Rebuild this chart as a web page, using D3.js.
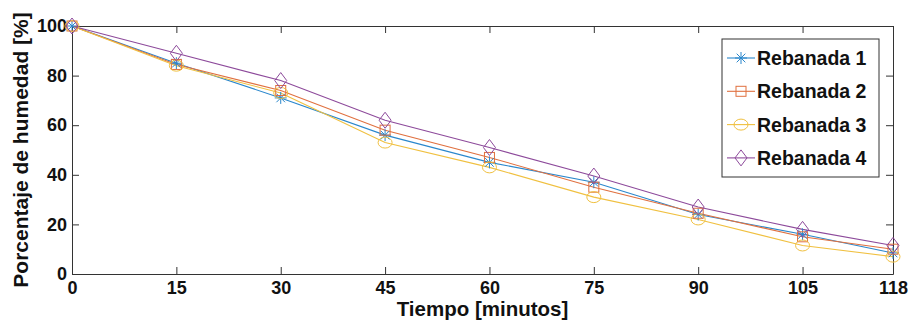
<!DOCTYPE html>
<html>
<head>
<meta charset="utf-8">
<script src="https://cdn.jsdelivr.net/npm/d3@7"></script>
<style>
  html, body { margin: 0; padding: 0; background: #fff; }
  svg { display: block; }
  text { font-family: "Liberation Sans", Arial, sans-serif; font-weight: bold; fill: #111; }
</style>
</head>
<body>
<svg id="chart" width="912" height="320"></svg>
<script>
// Moisture loss over drying time for four slices
const tiempo = [0, 15, 30, 45, 60, 75, 90, 105, 118];
const xTicks = [0, 15, 30, 45, 60, 75, 90, 105, 118];
const yTicks = [0, 20, 40, 60, 80, 100];
const seriesNames = ["Rebanada 1", "Rebanada 2", "Rebanada 3", "Rebanada 4"];
const rebanada1 = [100, 85, 71, 56, 45, 37, 24, 16, 8.5];
const rebanada2 = [100, 84.5, 74, 58, 47, 35, 24.5, 15, 10];
const rebanada3 = [100, 84, 73, 53, 43, 31, 22, 11.5, 7];
const rebanada4 = [100, 89, 78, 62, 51, 39.5, 27, 18, 11.5];
const seriesColors = ["#2a87cc", "#e0703f", "#f0c040", "#8d4a9b"];
const seriesMarkers = ["asterisk", "square", "circle", "diamond"];

const series = [rebanada1, rebanada2, rebanada3, rebanada4].map((vals, i) => ({
  name: seriesNames[i], color: seriesColors[i], marker: seriesMarkers[i],
  points: vals.map((v, j) => ({ x: tiempo[j], y: v }))
}));

const svg = d3.select("#chart");
const m = { left: 72, right: 19, top: 26, bottom: 46 };
const W = 912, H = 320;
const x = d3.scaleLinear().domain([0, 118]).range([m.left, W - m.right]);
const y = d3.scaleLinear().domain([0, 100]).range([H - m.bottom, m.top]);
const axisColor = "#333";
const tickLen = 7;
const font = "Liberation Sans";

// Axes: ticks point inward, mirrored on top and right
const xAxisB = d3.axisBottom(x).tickValues(xTicks).tickSizeInner(-tickLen).tickSizeOuter(0).tickPadding(7);
const xAxisT = d3.axisTop(x).tickValues(xTicks).tickSizeInner(-tickLen).tickSizeOuter(0).tickFormat("");
const yAxisL = d3.axisLeft(y).tickValues(yTicks).tickSizeInner(-tickLen).tickSizeOuter(0).tickPadding(5);
const yAxisR = d3.axisRight(y).tickValues(yTicks).tickSizeInner(-tickLen).tickSizeOuter(0).tickFormat("");

function styleAxis(g) {
  g.selectAll("path, line").attr("stroke", axisColor).attr("stroke-width", 1);
  g.selectAll("text").attr("font-size", 18).attr("font-family", font).attr("font-weight", "bold").attr("fill", "#111");
}
svg.append("g").attr("transform", `translate(0,${H - m.bottom})`).call(xAxisB).call(styleAxis);
svg.append("g").attr("transform", `translate(0,${m.top})`).call(xAxisT).call(styleAxis);
svg.append("g").attr("transform", `translate(${m.left},0)`).call(yAxisL).call(styleAxis);
svg.append("g").attr("transform", `translate(${W - m.right},0)`).call(yAxisR).call(styleAxis);

// Axis titles
svg.append("text").attr("x", (m.left + W - m.right) / 2).attr("y", 316)
  .attr("text-anchor", "middle").attr("font-size", 20.5).text("Tiempo [minutos]");
svg.append("text").attr("transform", `translate(28,${(m.top + H - m.bottom) / 2}) rotate(-90)`)
  .attr("text-anchor", "middle").attr("font-size", 21).text("Porcentaje de humedad [%]");

// Marker drawing
function drawMarker(g, type, cx, cy, color) {
  const s = g.append("g").attr("transform", `translate(${cx},${cy})`)
    .attr("fill", "none").attr("stroke", color).attr("stroke-width", 1);
  if (type === "asterisk") {
    const r = 6;
    s.append("line").attr("x1", -r).attr("x2", r).attr("y1", 0).attr("y2", 0);
    s.append("line").attr("x1", 0).attr("x2", 0).attr("y1", -r).attr("y2", r);
    const d = r * 0.72;
    s.append("line").attr("x1", -d).attr("x2", d).attr("y1", -d).attr("y2", d);
    s.append("line").attr("x1", -d).attr("x2", d).attr("y1", d).attr("y2", -d);
  } else if (type === "square") {
    s.append("rect").attr("x", -5).attr("y", -5).attr("width", 10).attr("height", 10);
  } else if (type === "circle") {
    s.append("ellipse").attr("rx", 7).attr("ry", 5.5);
  } else if (type === "diamond") {
    s.append("path").attr("d", "M0,-8L6,0L0,8L-6,0Z");
  }
}

const line = d3.line().x(d => x(d.x)).y(d => y(d.y));
const plot = svg.append("g");
series.forEach(s => {
  plot.append("path").datum(s.points).attr("d", line)
    .attr("fill", "none").attr("stroke", s.color).attr("stroke-width", 1.1);
});
series.forEach(s => {
  const g = plot.append("g");
  s.points.forEach(p => drawMarker(g, s.marker, x(p.x), y(p.y), s.color));
});

// Legend
const lg = svg.append("g").attr("transform", "translate(722,39)");
lg.append("rect").attr("width", 157).attr("height", 138)
  .attr("fill", "#fff").attr("stroke", axisColor).attr("stroke-width", 1);
series.forEach((s, i) => {
  const cy = 19 + i * 33.3;
  lg.append("line").attr("x1", 5).attr("x2", 33).attr("y1", cy).attr("y2", cy)
    .attr("stroke", s.color).attr("stroke-width", 1.1);
  drawMarker(lg, s.marker, 19, cy, s.color);
  lg.append("text").attr("x", 35).attr("y", cy + 7).attr("font-size", 19.5).text(s.name);
});
</script>
</body>
</html>
